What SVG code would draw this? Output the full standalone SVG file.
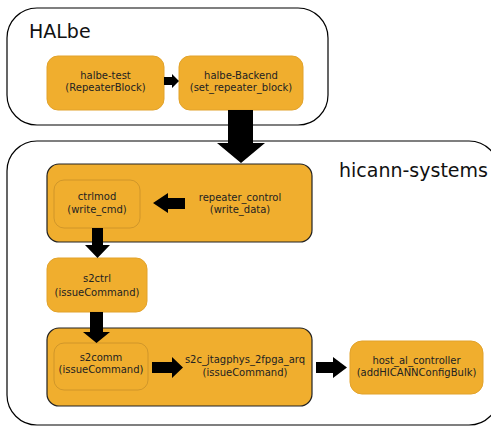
<svg xmlns="http://www.w3.org/2000/svg" width="491" height="426" viewBox="0 0 491 426">
<style>
.cont{fill:#fff;stroke:#000;stroke-width:1.2}
.node{fill:#f0ae2e;stroke:#e2a22a;stroke-width:1}
.outer{fill:#f0ae2e;stroke:#222;stroke-width:1.2}
.inner{fill:#f0ae2e;stroke:#c8902a;stroke-width:0.8}
.t{font-family:"DejaVu Sans",sans-serif;font-size:10px;fill:#222;text-anchor:middle}
.title{font-family:"DejaVu Sans",sans-serif;font-size:19px;fill:#111}
.arrow{fill:#000}
</style>
<rect width="491" height="426" fill="#fff"/>
<g id="HALbe">
<rect class="cont" x="7" y="8" width="321" height="117" rx="30"/>
<text class="title" x="29" y="38">HALbe</text>
</g>
<g id="hicann-systems">
<rect class="cont" x="7" y="141" width="492" height="284" rx="30"/>
<text class="title" x="339" y="177">hicann-systems</text>
</g>
<g id="halbe-test">
<rect class="node" x="47" y="56" width="117" height="54" rx="11"/>
<text class="t" x="105.5" y="79">halbe-test</text>
<text class="t" x="105.5" y="91">(RepeaterBlock)</text>
</g>
<g id="halbe-Backend">
<rect class="node" x="179" y="56" width="124" height="54" rx="11"/>
<text class="t" x="241" y="79">halbe-Backend</text>
<text class="t" x="241" y="91">(set_repeater_block)</text>
</g>
<g id="repeater_control">
<rect class="outer" x="47" y="164" width="265" height="78" rx="12"/>
<text class="t" x="240" y="201">repeater_control</text>
<text class="t" x="240" y="213">(write_data)</text>
</g>
<g id="ctrlmod">
<rect class="inner" x="54" y="180" width="86" height="48" rx="10"/>
<text class="t" x="97" y="200">ctrlmod</text>
<text class="t" x="97" y="213">(write_cmd)</text>
</g>
<g id="s2ctrl">
<rect class="node" x="47" y="258" width="100" height="54" rx="11"/>
<text class="t" x="97" y="282">s2ctrl</text>
<text class="t" x="97" y="296">(issueCommand)</text>
</g>
<g id="s2c_jtagphys_2fpga_arq">
<rect class="outer" x="47" y="328" width="265" height="78" rx="12"/>
<text class="t" x="245" y="363">s2c_jtagphys_2fpga_arq</text>
<text class="t" x="245" y="376">(issueCommand)</text>
</g>
<g id="s2comm">
<rect class="inner" x="54" y="343" width="94" height="47" rx="10"/>
<text class="t" x="101" y="361">s2comm</text>
<text class="t" x="101" y="373">(issueCommand)</text>
</g>
<g id="host_al_controller">
<rect class="node" x="350" y="341" width="133" height="53" rx="12"/>
<text class="t" x="416.5" y="364">host_al_controller</text>
<text class="t" x="416.5" y="376">(addHICANNConfigBulk)</text>
</g>
<g id="connectors">
<polygon class="arrow" points="164,77 172,77 172,74 179,81 172,88 172,85 164,85"/>
<polygon class="arrow" points="228,110 253,110 253,143 265,143 241,163 217,143 228,143"/>
<polygon class="arrow" points="185,198 168,198 168,193 153,203 168,213 168,209 185,209"/>
<polygon class="arrow" points="92,228 103,228 103,245 110,245 97.5,258 85,245 92,245"/>
<polygon class="arrow" points="90,312 103,312 103,332 110,332 96.5,343 83,332 90,332"/>
<polygon class="arrow" points="152,362 172,362 172,357 183,367.5 172,378 172,373 152,373"/>
<polygon class="arrow" points="316,362 333,362 333,357 347,367.5 333,378 333,373 316,373"/>
</g>
</svg>
